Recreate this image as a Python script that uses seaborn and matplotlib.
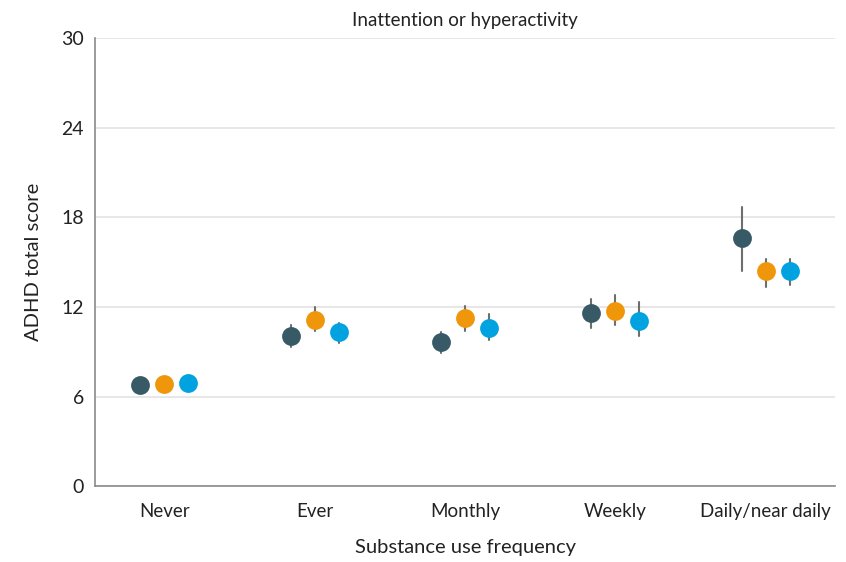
import matplotlib
matplotlib.use("Agg")
import matplotlib.pyplot as plt
import numpy as np
import pandas as pd
import seaborn as sns

categories = ["Never", "Ever", "Monthly", "Weekly", "Daily/near daily"]
groups = ["A", "B", "C"]
colors = ["#375A66", "#F0960A", "#00A3E0"]

# point estimate and 95% CI per group, per category
mean_a = [6.76, 10.05, 9.67, 11.57, 16.59]
low_a = [6.6, 9.31, 8.93, 10.56, 14.42]
high_a = [6.9, 10.78, 10.34, 12.5, 18.7]

mean_b = [6.83, 11.12, 11.23, 11.74, 14.4]
low_b = [6.7, 10.38, 10.4, 10.78, 13.31]
high_b = [6.95, 11.99, 12.08, 12.79, 15.2]

mean_c = [6.9, 10.31, 10.6, 11.07, 14.4]
low_c = [6.77, 9.58, 9.78, 10.05, 13.46]
high_c = [7.03, 10.92, 11.5, 12.3, 15.2]

rows = []
for g, m, lo, hi in zip(groups, [mean_a, mean_b, mean_c], [low_a, low_b, low_c], [high_a, high_b, high_c]):
    for c, mv, lv, hv in zip(categories, m, lo, hi):
        for v in (lv, mv, hv):
            rows.append({"freq": c, "group": g, "score": v})
df = pd.DataFrame(rows)

sns.set_style("white")
plt.rcParams["font.family"] = ["Lato", "DejaVu Sans"]

fig = plt.figure(figsize=(8.46, 5.62), dpi=100)
ax = fig.add_axes([0.1123, 0.135, 0.8747, 0.797])

# median of (low, mid, high) = mid; 100% interval = low..high
sns.pointplot(data=df, x="freq", y="score", hue="group", order=categories,
              hue_order=groups, palette=colors, estimator="median",
              errorbar=("pi", 100), dodge=0.32, linestyle="none",
              markers="o", markersize=11.5, legend=False, ax=ax, zorder=3,
              err_kws={"color": "#6e6e6e", "linewidth": 1.5, "zorder": 1})

ax.set_xlim(-0.46, 4.46)
ax.set_ylim(0, 30)
ax.set_yticks(np.arange(0, 31, 6))
ax.yaxis.grid(True, color="#e3e3e3", linewidth=1.2)
ax.set_axisbelow(True)
for s in ["top", "right"]:
    ax.spines[s].set_visible(False)
for s in ["left", "bottom"]:
    ax.spines[s].set_color("#8a8a8a")
    ax.spines[s].set_linewidth(1.2)
ax.tick_params(axis="y", length=5, colors="#8a8a8a", labelcolor="#222222", labelsize=14, pad=3)
ax.tick_params(axis="x", length=0, labelsize=13.5, labelcolor="#222222", pad=12)

ax.set_xlabel("Substance use frequency", fontsize=14.5, color="#222222", labelpad=14)
ax.set_ylabel("ADHD total score", fontsize=14.5, color="#222222", labelpad=14)
ax.set_title("Inattention or hyperactivity", fontsize=13.5, color="#222222", pad=9)

fig.savefig("out.png", dpi=100)
